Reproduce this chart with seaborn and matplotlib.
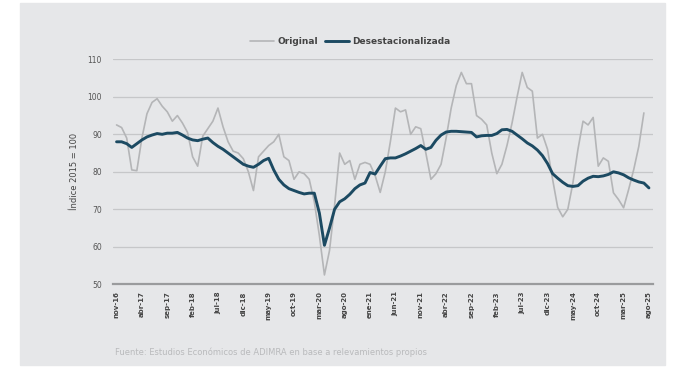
import numpy as np
import pandas as pd
import seaborn as sns
import matplotlib.pyplot as plt
from matplotlib.patches import Rectangle

meses = ["ene", "feb", "mar", "abr", "may", "jun", "jul", "ago", "sep", "oct", "nov", "dic"]

# monthly index, nov-16 .. ago-25
original = [92.5, 91.8, 89.0, 80.5, 80.3, 89.0, 95.5, 98.5, 99.5, 97.5,
            96.0, 93.5, 95.0, 93.0, 90.5, 84.0, 81.5, 89.5, 91.5, 93.5,
            97.0, 92.0, 88.0, 85.5, 85.0, 83.5, 80.0, 75.0, 84.0, 85.5,
            87.0, 88.0, 90.0, 84.0, 83.0, 78.0, 80.0, 79.5, 78.0, 72.0,
            63.0, 52.5, 59.0, 71.0, 85.0, 82.0, 83.0, 78.0, 82.0, 82.5,
            82.0, 79.0, 74.5, 80.0, 88.0, 97.0, 96.0, 96.5, 90.0, 92.0,
            91.5, 85.0, 78.0, 79.5, 82.0, 89.0, 97.0, 103.0, 106.5, 103.5,
            103.5, 95.0, 94.0, 92.5, 85.0, 79.5, 82.0, 87.0, 93.0, 100.0,
            106.5, 102.5, 101.5, 89.0, 90.0, 86.0, 78.0, 70.5, 68.0, 70.0,
            77.0, 86.0, 93.5, 92.5, 94.5, 81.5, 83.7, 82.8, 74.4, 72.6,
            70.4, 75.3, 80.6, 86.8, 95.7, np.nan]

desest = [88.0, 88.0, 87.5, 86.5, 87.5, 88.5, 89.3, 89.8, 90.2, 90.0,
          90.3, 90.3, 90.5, 89.8, 89.0, 88.5, 88.3, 88.7, 89.0, 87.8,
          86.8, 86.0, 85.0, 84.0, 83.0, 82.0, 81.5, 81.2, 82.0, 83.0,
          83.6, 80.5, 78.0, 76.5, 75.5, 75.0, 74.5, 74.1, 74.3, 74.3,
          69.0, 60.4, 65.0, 70.0, 72.0, 72.8, 74.0, 75.5, 76.5, 77.0,
          79.8, 79.4, 81.5, 83.5, 83.7, 83.7, 84.2, 84.8, 85.5, 86.2,
          87.0, 86.0, 86.5, 88.4, 89.8, 90.6, 90.8, 90.8, 90.7, 90.6,
          90.5, 89.3, 89.6, 89.7, 89.7, 90.2, 91.2, 91.3, 90.8, 89.8,
          88.8, 87.7, 86.9, 85.8, 84.3, 82.2, 79.5, 78.3, 77.2, 76.3,
          76.1, 76.3, 77.5, 78.3, 78.8, 78.7, 78.9, 79.3, 80.0, 79.7,
          79.2, 78.4, 77.8, 77.3, 77.0, 75.7]

# month labels
labels = []
y, m = 2016, 11
for _ in range(len(desest)):
    labels.append(f"{meses[m-1]}-{str(y)[2:]}")
    m += 1
    if m > 12:
        m, y = 1, y + 1

df = pd.DataFrame({"t": range(len(desest)), "Original": original,
                   "Desestacionalizada": desest})
long = df.melt(id_vars="t", var_name="serie", value_name="valor")

bg = "#e6e7e9"
sns.set_style("white")
fig = plt.figure(figsize=(6.78, 3.68), dpi=100, facecolor="white")
fig.patches.append(Rectangle((20/678, 3/368), 645/678, 362/368,
                             transform=fig.transFigure, color=bg, zorder=-10))
ax = fig.add_axes([113/678, 1 - 284.3/368, 540/678, 225/368])
ax.set_facecolor(bg)

sns.lineplot(data=long, x="t", y="valor", hue="serie", size="serie",
             palette={"Original": "#b4b5b7", "Desestacionalizada": "#1c4a62"},
             sizes={"Original": 1.2, "Desestacionalizada": 2.1},
             ax=ax, legend=True)

ax.set_xlim(-0.7, 105.8)
ax.set_ylim(50, 110)
ax.set_yticks(range(50, 111, 10))
ax.set_xticks(range(0, len(desest), 5))
ax.set_xticklabels(labels[::5], rotation=90, fontsize=5, color="#444444",
                   fontweight="bold")
ax.tick_params(axis="y", labelsize=5.5, labelcolor="#555555", length=0, pad=8)
ax.tick_params(axis="x", length=0, pad=5)
ax.grid(axis="y", color="#c6c7c9", lw=0.9)
for s in ["top", "right", "left"]:
    ax.spines[s].set_visible(False)
ax.spines["bottom"].set_color("#9a9b9d")
ax.spines["bottom"].set_linewidth(1.6)
ax.set_xlabel("")
ax.set_ylabel("Índice 2015 = 100", fontsize=6, color="#444444", labelpad=6)

leg = ax.legend(loc="center", bbox_to_anchor=(0.44, 1.08), ncol=2, frameon=False,
                fontsize=6.5, handlelength=2.6, columnspacing=0.8, handletextpad=0.4)
for t in leg.get_texts():
    t.set_color("#444444")
    t.set_fontweight("bold")

fig.text(115/678, 1 - 352/368,
         "Fuente: Estudios Económicos de ADIMRA en base a relevamientos propios",
         fontsize=6, color="#b9babc", va="center")

fig.savefig("out.png", dpi=100, facecolor=fig.get_facecolor())
